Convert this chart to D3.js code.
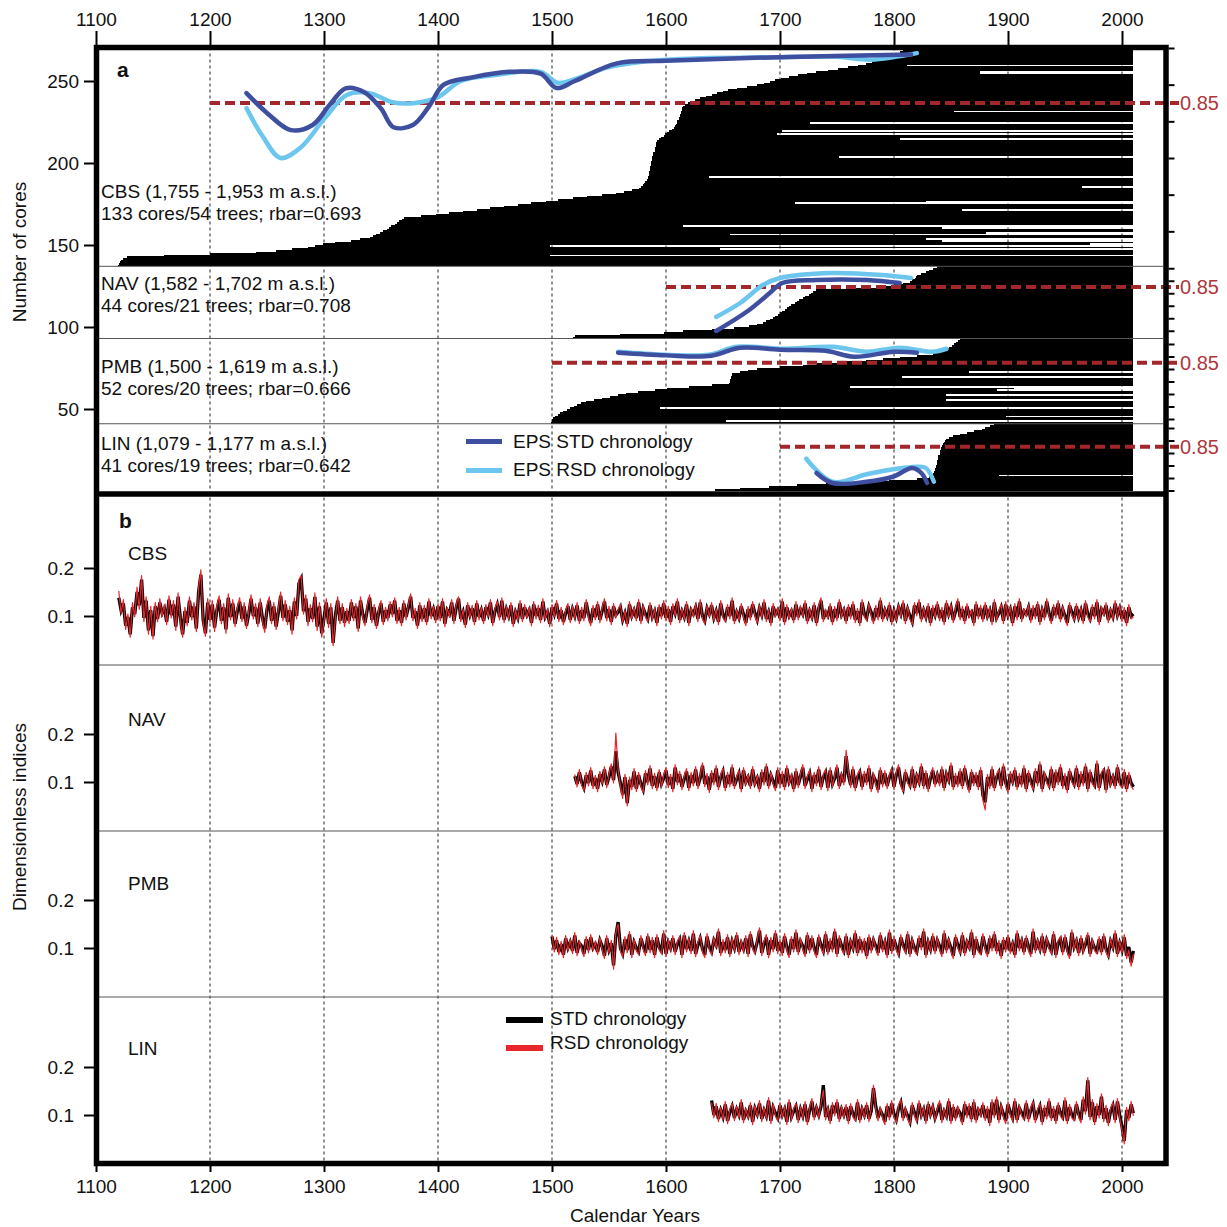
<!DOCTYPE html>
<html><head><meta charset="utf-8">
<script src="https://cdn.jsdelivr.net/npm/d3@7/dist/d3.min.js"></script>
<style>
body{margin:0;background:#fff}
svg{display:block}
text{font-family:"Liberation Sans",Arial,Helvetica,sans-serif;fill:#111}
</style></head>
<body><svg id="chart" width="1227" height="1227"></svg>
<script>
// ---------------- DATA ----------------
const yearTicks = [1100,1200,1300,1400,1500,1600,1700,1800,1900,2000];
const gridYears = [1200,1300,1400,1500,1600,1700,1800,1900,2000];
const coreTicks = [50,100,150,200,250];
const indexTicks = [0.1,0.2];
const epsTicks = [0.4,0.5,0.6,0.7,0.8,0.9,1.0];
const epsThreshold = 0.85;
const lastYear = 2010;

const sites = ["CBS","NAV","PMB","LIN"];
const siteLine1 = ["CBS (1,755 - 1,953 m a.s.l.)","NAV (1,582 - 1,702 m a.s.l.)","PMB (1,500 - 1,619 m a.s.l.)","LIN (1,079 - 1,177 m a.s.l.)"];
const siteLine2 = ["133 cores/54 trees; rbar=0.693","44 cores/21 trees; rbar=0.708","52 cores/20 trees; rbar=0.666","41 cores/19 trees; rbar=0.642"];
const epsLineStart = [1200,1600,1500,1700];

// core start years (sorted, bottom to top within each site)
const linStart = [1643,1665,1690,1715,1740,1770,1796,1820,1831,1833,1834,1835,1836,1836,1837,
 1837,1838,1838,1838,1839,1839,1839,1840,1840,1840,1841,1841,1842,1843,1844,1845,1846,1848,
 1852,1858,1864,1870,1877,1880,1884,1888];
const pmbStart = [1499,1500,1500,1501,1503,1505,1507,1510,1513,1516,1519,1522,1525,
 1530,1537,1544,1551,1558,1565,1575,1590,1601,1620,1640,1655,1656,1656,1657,1657,1658,1658,
 1665,1672,1680,1700,1720,1732,1755,1775,1790,1805,1820,1834,1838,1842,1845,1848,1851,1853,1854,1856,1858];
const navStart = [1518,1520,1560,1598,1615,1640,1660,1673,1680,1685,1688,1691,1694,1696,1698,1700,
 1702,1704,1706,1708,1710,1713,1715,1717,1720,1722,1725,1727,1729,1732,1760,1790,1800,1808,1814,
 1816,1818,1819,1820,1824,1828,1831,1834,1838];
const cbsStart = [1119,1120,1121,1122,1124,1127,1160,1200,1240,1258,1272,1286,1292,1299,1310,1324,1332,1340,
 1343,1346,1349,1352,1355,1357,1359,1362,1364,1366,1368,1370,
 1385,1398,1410,1422,1434,1446,1458,1470,1482,1495,1505,1518,1531,1544,1556,1563,1570,1576,
 1578,1580,1581,1582,1583,
 1584,1584,1585,1585,1585,1586,1586,1586,1587,1587,1587,1588,1588,1588,1589,1589,1589,1590,1590,1590,1591,1591,1591,1592,
 1594,1596,1598,1599,1601,1603,1605,1607,1608,1609,
 1610,1610,1611,1611,1612,1612,1613,1613,1614,1614,1615,1617,1619,1622,
 1625,1630,1635,1640,1645,1650,1654,1662,1671,1680,1686,1691,1696,1701,1708,1716,1724,1732,
 1742,1751,1760,1768,1775,1781,1786,1790,1794,1798,1801,1805,1808,1811];

// cores (global row index) that end before the last year: [row, endYear]
const shortCores = [[259,1811],[254,1875],[255,1875],[231,1853],[224,1726],[219,1702],[217,1697],[214,1805],
 [203,1752],[191,1638],[175,1713],[176,1828],[171,1860],[161,1615],[160,1842],[156,1656],[157,1881],
 [153,1828],[152,1842],[149,1498],[147,1647],[143,1498],[185,1965],[150,1972],
 [72,1866],[69,1807],[63,1761],[62,1905],[61,1890],[58,1846],[55,1846],[50,1595],[45,1898],[42,1653],[9,1892]];

// EPS curves [year, EPS]
const cbsEpsStd = [[1232,0.877],[1250,0.823],[1271,0.776],[1290,0.79],[1305,0.845],[1319,0.89],[1335,0.88],[1350,0.835],[1361,0.784],[1378,0.79],[1392,0.84],[1405,0.9],[1430,0.92],[1463,0.935],[1490,0.93],[1504,0.891],[1520,0.91],[1557,0.958],[1600,0.965],[1700,0.975],[1815,0.982]];
const cbsEpsRsd = [[1232,0.836],[1246,0.76],[1262,0.70],[1280,0.73],[1300,0.806],[1320,0.872],[1340,0.877],[1360,0.852],[1380,0.85],[1400,0.866],[1420,0.91],[1450,0.926],[1490,0.935],[1505,0.905],[1520,0.915],[1550,0.948],[1600,0.968],[1700,0.975],[1750,0.976],[1780,0.968],[1820,0.986]];
const navEpsStd = [[1644,0.498],[1673,0.666],[1691,0.802],[1702,0.882],[1732,0.906],[1776,0.906],[1805,0.882]];
const navEpsRsd = [[1644,0.61],[1665,0.722],[1685,0.866],[1700,0.922],[1745,0.962],[1790,0.946],[1815,0.922]];
const pmbEpsStd = [[1558,0.93],[1600,0.909],[1640,0.906],[1665,0.97],[1700,0.954],[1740,0.946],[1765,0.898],[1800,0.938],[1820,0.93]];
const pmbEpsRsd = [[1558,0.938],[1600,0.914],[1638,0.914],[1662,0.978],[1703,0.962],[1746,0.978],[1776,0.938],[1805,0.97],[1834,0.938],[1846,0.962]];
const linEpsStd = [[1732,0.64],[1746,0.56],[1776,0.57],[1799,0.61],[1816,0.68],[1824,0.64],[1829,0.56]];
const linEpsRsd = [[1723,0.754],[1746,0.57],[1776,0.63],[1799,0.67],[1820,0.69],[1828,0.68],[1835,0.57]];

// chronologies, every second year, values x1000
const cbsFirstYear = 1120, navFirstYear = 1520, pmbFirstYear = 1500, linFirstYear = 1640;
const cbsStd = [138,112,126,80,98,62,118,104,150,122,176,96,132,70,112,58,120,94,128,106,
116,88,134,102,124,78,140,96,62,110,86,132,98,120,74,150,186,92,64,128,
92,124,76,112,134,90,118,72,138,98,126,84,110,130,94,120,80,104,136,100,
118,84,128,96,74,114,132,90,120,78,108,142,96,124,88,112,70,130,100,168,
178,110,136,88,116,94,140,78,120,64,96,128,84,118,44,102,132,90,118,86,
110,90,128,96,120,74,132,104,86,114,138,92,118,80,108,126,88,112,96,124,
104,132,90,112,86,126,98,118,140,96,110,80,122,94,116,88,130,100,114,92,
120,96,130,84,112,104,128,90,118,136,94,108,82,122,102,116,88,126,98,112,
90,118,104,128,86,110,124,98,132,92,114,100,122,84,108,96,126,94,118,102,
112,86,124,100,116,92,130,98,108,84,118,104,126,94,112,88,106,120,92,114,
100,122,90,112,96,128,104,86,116,98,124,92,110,130,96,114,88,120,102,108,
118,92,106,84,124,100,112,96,128,90,116,104,94,122,98,110,86,118,100,126,
96,114,88,120,106,130,92,110,98,124,86,112,104,118,94,128,100,90,116,104,
122,96,110,88,126,102,94,118,100,132,90,108,96,120,104,86,114,98,124,106,
92,116,102,128,94,108,86,120,104,112,96,130,88,118,100,110,92,124,98,114,
104,126,90,110,98,122,86,116,132,94,108,100,120,88,114,96,128,102,112,90,
118,100,124,92,110,86,128,104,96,120,108,90,116,98,132,94,112,100,122,88,
110,96,118,104,126,90,114,100,88,122,106,128,94,112,98,120,86,116,102,124,
96,112,88,126,104,118,92,110,130,98,114,90,120,102,108,86,124,100,116,94,
122,100,112,88,128,96,106,118,90,124,102,114,86,120,98,130,94,110,104,118,
92,116,100,124,88,112,98,130,106,90,118,102,126,94,114,100,86,122,108,96,
120,98,112,90,126,104,94,118,100,128,88,114,106,122,92,110,98,126,102,116,
94,112,86,118,100,104];
const cbsRsd = [152,106,134,72,104,56,128,98,160,114,184,88,140,62,120,52,128,88,136,98,
124,82,142,96,132,70,148,90,56,118,80,140,92,128,68,158,196,86,58,136,
86,132,68,120,142,84,126,64,146,92,134,78,118,138,88,128,74,110,144,94,
126,78,136,90,66,122,140,84,128,72,116,150,90,132,82,120,62,138,94,176,
184,104,144,80,124,88,148,70,128,56,90,136,76,126,38,96,140,84,126,78,
116,84,134,90,126,68,140,98,80,122,144,86,124,74,114,132,82,118,90,130,
98,138,84,118,80,132,92,124,146,90,116,74,128,88,122,82,136,94,120,86,
126,90,136,78,118,98,134,84,124,140,88,114,76,128,96,122,82,132,92,118,
84,124,98,134,80,116,130,92,138,86,120,94,128,78,114,90,132,88,124,96,
118,80,130,94,122,86,136,92,114,78,124,98,132,88,118,82,112,126,86,120,
94,128,84,118,90,134,98,80,122,92,130,86,116,136,90,120,82,126,96,114,
124,86,112,78,130,94,118,90,134,84,122,98,88,128,92,116,80,124,94,132,
90,120,82,126,100,136,86,116,92,130,80,118,98,124,88,134,94,84,122,98,
128,90,116,82,132,96,88,124,94,138,84,114,90,126,98,80,120,92,130,100,
86,122,96,134,88,114,80,126,98,118,90,136,82,124,94,116,86,130,92,120,
98,132,84,116,92,128,80,122,138,88,114,94,126,82,120,90,134,96,118,84,
124,94,130,86,116,80,134,98,90,126,102,84,122,92,138,88,118,94,128,82,
116,90,124,98,132,84,120,94,82,128,100,134,88,118,92,126,80,122,96,130,
90,118,82,132,98,124,86,116,136,92,120,84,126,96,114,80,130,94,122,88,
128,94,118,82,134,90,112,124,84,130,96,120,80,126,92,136,88,116,98,124,
86,122,94,130,82,118,92,136,100,84,124,96,132,88,120,94,80,128,102,90,
126,92,118,84,132,98,88,124,94,134,82,120,100,128,86,116,92,132,96,122,
88,118,80,124,94,98];
const navStd = [112,96,120,100,88,114,98,124,92,108,86,116,102,126,94,110,132,104,164,120,
98,74,110,56,104,90,122,86,114,96,84,118,100,128,92,112,88,120,96,108,
124,94,110,86,130,100,116,90,106,122,88,114,98,126,92,108,134,96,112,84,
118,100,128,90,110,122,88,114,96,130,92,106,118,86,124,100,110,92,126,98,
108,86,120,100,132,92,114,102,88,124,96,116,90,128,100,110,86,122,94,112,
130,92,106,118,86,114,98,126,90,110,120,88,124,96,108,130,92,112,100,154,
114,94,126,88,110,120,90,116,100,128,86,112,102,84,124,96,118,92,110,122,
90,114,130,98,86,120,104,94,126,88,112,100,132,92,118,86,108,124,96,114,
98,126,88,116,104,134,90,112,96,122,92,128,102,84,120,98,114,90,124,72,
58,110,92,126,88,110,120,92,132,98,84,116,102,124,90,112,96,128,86,118,
102,90,122,98,136,86,114,104,94,126,88,120,100,130,92,112,84,122,106,96,
128,90,116,98,132,86,120,102,94,138,88,114,122,84,126,98,110,92,130,100,
94,120,86,114,98,90];
const navRsd = [116,90,126,94,82,120,92,130,86,114,80,122,96,132,88,116,138,98,202,126,
92,66,116,50,110,84,128,80,120,90,78,124,94,134,86,118,82,126,90,114,
130,88,116,80,136,94,122,84,112,128,82,120,92,132,86,114,140,90,118,78,
124,94,134,84,116,128,82,120,90,136,86,112,124,80,130,94,116,86,132,92,
114,80,126,94,138,86,120,96,82,130,90,122,84,134,94,116,80,128,88,118,
136,86,112,124,80,120,92,132,84,116,126,82,130,90,114,136,86,118,94,166,
120,88,132,82,116,126,84,122,94,134,80,118,96,78,130,90,124,86,116,128,
84,120,136,92,80,126,98,88,132,82,118,94,138,86,124,80,114,130,90,120,
92,132,82,122,98,140,84,118,90,128,86,134,96,78,126,92,120,84,130,62,
42,116,86,132,82,116,126,86,138,92,78,122,96,130,84,118,90,134,80,124,
96,84,128,92,142,80,120,98,88,132,82,126,94,136,86,118,78,128,100,90,
134,84,122,92,138,80,126,96,88,144,82,120,128,78,132,92,116,86,136,94,
88,126,80,120,92,84];
const pmbStd = [124,98,116,92,108,86,120,100,112,94,126,90,110,104,88,118,96,122,100,108,
92,116,104,84,120,96,110,64,126,154,100,88,118,96,128,86,112,100,92,120,
104,90,124,96,116,86,122,102,94,130,88,112,100,120,92,108,118,86,126,98,
114,94,130,88,106,120,98,86,124,102,92,116,106,134,90,112,96,122,88,114,
100,126,92,110,98,120,88,128,104,94,112,136,90,108,122,86,116,98,130,94,
112,90,124,102,86,118,98,132,92,114,104,88,126,96,120,100,86,122,106,94,
128,92,114,98,134,88,120,104,94,124,86,112,100,130,90,118,96,114,84,122,
96,116,104,90,126,98,112,86,132,94,118,102,90,122,106,96,128,88,114,100,
92,120,102,134,86,112,98,124,94,116,104,88,130,96,114,100,84,122,106,94,
126,90,112,102,132,86,118,98,92,124,104,88,120,100,128,94,110,84,116,98,
122,94,108,86,130,100,114,92,120,102,88,134,96,112,98,124,90,116,104,94,
128,86,110,118,92,122,98,84,132,102,114,90,120,96,108,126,88,112,100,94,
118,92,124,98,86,114,102,130,88,110,96,122,84,102,70,94];
const pmbRsd = [128,92,122,86,114,80,126,94,118,88,132,84,116,98,82,124,90,128,94,114,
86,122,98,78,126,90,116,56,132,150,94,82,124,90,134,80,118,94,86,126,
98,84,130,90,122,80,128,96,88,136,82,118,94,126,86,114,124,80,132,92,
120,88,136,82,112,126,92,80,130,96,86,122,100,140,84,118,90,128,82,120,
94,132,86,116,92,126,82,134,98,88,118,142,84,114,128,80,122,92,136,88,
118,84,130,96,80,124,92,138,86,120,98,82,132,90,126,94,80,128,100,88,
134,86,120,92,140,82,126,98,88,130,80,118,94,136,84,124,90,120,78,128,
90,122,98,84,132,92,118,80,138,88,124,96,84,128,100,90,134,82,120,94,
86,126,96,140,80,118,92,130,88,122,98,82,136,90,120,94,78,128,100,88,
132,84,118,96,138,80,124,92,86,130,98,82,126,94,134,88,116,78,122,92,
128,88,114,80,136,94,120,86,126,96,82,140,90,118,92,130,84,122,98,88,
134,80,116,124,86,128,92,78,138,96,120,84,126,90,114,132,82,118,94,88,
124,86,130,92,80,120,96,136,82,116,90,128,78,96,62,88];
const linStd = [130,100,118,92,110,96,122,88,106,118,94,112,100,126,90,108,98,120,86,114,
102,124,92,110,98,130,88,116,104,94,120,100,112,86,126,96,108,118,90,112,
98,122,86,110,128,96,114,100,118,162,96,110,88,120,104,126,92,112,100,116,
88,118,102,94,126,90,112,100,120,92,108,156,118,94,110,100,86,118,96,124,
102,90,114,126,94,110,98,86,120,104,92,124,100,112,88,122,102,116,94,108,
124,90,108,98,128,88,116,94,112,104,86,122,100,118,92,126,90,110,102,120,
94,112,84,126,100,132,90,116,102,88,122,106,94,128,90,114,104,96,124,92,
110,122,90,106,118,86,114,98,128,94,112,88,120,104,96,130,88,116,100,94,
122,102,90,132,108,172,96,126,86,118,100,138,92,114,84,108,120,90,128,100,
76,46,110,94,122,104];
const linRsd = [126,94,124,86,116,90,128,82,112,124,88,118,94,132,84,114,92,126,80,120,
96,130,86,116,92,136,82,122,98,88,126,94,118,80,132,90,114,124,84,118,
92,128,80,116,134,90,120,94,124,152,90,116,82,126,98,132,86,118,94,122,
82,124,96,88,132,84,118,94,126,86,114,162,112,88,116,94,80,124,90,130,
96,84,120,132,88,116,92,80,126,98,86,130,94,118,82,128,96,122,88,114,
130,84,114,92,134,82,122,88,118,98,80,128,94,124,86,132,84,116,96,126,
88,118,78,132,94,138,84,122,96,82,128,100,88,134,84,120,98,90,130,86,
116,128,84,112,124,80,120,92,134,88,118,82,126,98,90,136,82,122,94,88,
128,96,84,138,102,178,90,132,80,124,94,144,86,120,78,114,126,84,134,94,
70,40,116,88,128,98];

// ---------------- DRAWING ----------------
const svg = d3.select("#chart");
const FONT = 19;
const L = 96.5, R = 1166, T = 47.5, B = 1163.5, MID = 494;

const x = d3.scaleLinear().domain([1100,2000]).range([96,1122]);
const yCore = d3.scaleLinear().domain([0,250]).range([491,81]);

// EPS scales for each site (panel a, right axis)
const epsRanges = [[268,48],[343.25,268.25],[419,344],[503,428]];
const epsScales = epsRanges.map(r => d3.scaleLinear().domain([0.4,1.0]).range(r));

// panel b index scales
const bBase = [664,830,996,1163];
const idxScales = bBase.map(b => d3.scaleLinear().domain([0,0.1]).range([b,b-48]));

// grid lines
svg.append("g").selectAll("line").data(gridYears).join("line")
  .attr("x1",d=>x(d)).attr("x2",d=>x(d)).attr("y1",T).attr("y2",B)
  .attr("stroke","#222").attr("stroke-width",1).attr("stroke-dasharray","3,3");

// cores
const groups = [linStart, pmbStart, navStart, cbsStart];
const cores = [];
let row = 0;
groups.forEach((g,gi)=>g.forEach(s=>{cores.push({row:row, start:s, end:lastYear}); row++;}));
shortCores.forEach(([r,e])=>{ if(cores[r]) cores[r].end = e; });
const groupBounds = [0, linStart.length, linStart.length+pmbStart.length, linStart.length+pmbStart.length+navStart.length, cores.length];

svg.append("g").attr("shape-rendering","crispEdges").selectAll("rect").data(cores).join("rect")
  .attr("x",d=>x(d.start)).attr("width",d=>Math.max(0,x(d.end)-x(d.start)))
  .attr("y",d=>yCore(d.row+1)).attr("height",d=>yCore(d.row)-yCore(d.row+1))
  .attr("fill","#000");

// separators panel a
svg.append("g").selectAll("line").data(groupBounds.slice(1,4)).join("line")
  .attr("x1",L).attr("x2",R-3).attr("y1",d=>yCore(d)).attr("y2",d=>yCore(d))
  .attr("stroke","#555").attr("stroke-width",1);
// separators panel b
svg.append("g").selectAll("line").data(bBase.slice(0,3)).join("line")
  .attr("x1",L).attr("x2",R-3).attr("y1",d=>d+1).attr("y2",d=>d+1)
  .attr("stroke","#555").attr("stroke-width",1);

// chronologies
const chronData = [
  [cbsFirstYear,cbsStd,cbsRsd],[navFirstYear,navStd,navRsd],[pmbFirstYear,pmbStd,pmbRsd],[linFirstYear,linStd,linRsd]];
chronData.forEach(([fy,std,rsd],i)=>{
  const ys = idxScales[i];
  const ln = d3.line().x((d,k)=>x(fy+2*k)).y(d=>ys(d/1000));
  svg.append("path").attr("d",ln(std)).attr("fill","none").attr("stroke","#000").attr("stroke-width",3.3).attr("stroke-linejoin","miter");
  svg.append("path").attr("d",ln(rsd)).attr("fill","none").attr("stroke","#e8262b").attr("stroke-width",1.2).attr("stroke-linejoin","round");
});

// EPS threshold dashed lines
epsLineStart.forEach((ys,i)=>{
  const yy = epsScales[i](epsThreshold);
  svg.append("line").attr("x1",x(ys)).attr("x2",1179).attr("y1",yy).attr("y2",yy)
    .attr("stroke","#a3262a").attr("stroke-width",4).attr("stroke-dasharray","10,5");
});

// EPS curves
const epsData = [[cbsEpsStd,cbsEpsRsd],[navEpsStd,navEpsRsd],[pmbEpsStd,pmbEpsRsd],[linEpsStd,linEpsRsd]];
epsData.forEach(([s,r],i)=>{
  const sc = epsScales[i];
  const ln = d3.line().curve(d3.curveCatmullRom.alpha(0.5)).x(d=>x(d[0])).y(d=>sc(d[1]));
  svg.append("path").attr("d",ln(r)).attr("fill","none").attr("stroke","#6cc6ee").attr("stroke-width",4.5).attr("stroke-linecap","round");
  svg.append("path").attr("d",ln(s)).attr("fill","none").attr("stroke","#3f4fa0").attr("stroke-width",4.5).attr("stroke-linecap","round");
});

// frame
svg.append("rect").attr("x",L).attr("y",T).attr("width",R-L).attr("height",B-T)
  .attr("fill","none").attr("stroke","#000").attr("stroke-width",5.5);
svg.append("line").attr("x1",L).attr("x2",R).attr("y1",MID).attr("y2",MID).attr("stroke","#000").attr("stroke-width",5.5);

// axes
function styleAxis(g){
  g.select(".domain").remove();
  g.selectAll(".tick line").attr("stroke","#000").attr("stroke-width",2);
  g.selectAll(".tick text").attr("font-size",FONT).attr("fill","#222").attr("font-family",'"Liberation Sans",Arial,sans-serif');
}
svg.append("g").attr("transform",`translate(0,${T-2.5})`)
  .call(d3.axisTop(x).tickValues(yearTicks).tickFormat(d3.format("d")).tickSize(14).tickPadding(5)).call(styleAxis);
svg.append("g").attr("transform",`translate(0,${B+2.5})`)
  .call(d3.axisBottom(x).tickValues(yearTicks).tickFormat(d3.format("d")).tickSize(6).tickPadding(8)).call(styleAxis);
svg.append("g").attr("transform",`translate(${L-2.5},0)`)
  .call(d3.axisLeft(yCore).tickValues(coreTicks).tickSize(10).tickPadding(5)).call(styleAxis);
idxScales.forEach(sc=>{
  svg.append("g").attr("transform",`translate(${L-2.5},0)`)
    .call(d3.axisLeft(sc).tickValues(indexTicks).tickSize(10).tickPadding(10).tickFormat(d3.format(".1f"))).call(styleAxis);
});
// right EPS ticks
const panelTop = [yCore(groupBounds[4]) - 3, yCore(groupBounds[3]), yCore(groupBounds[2]), yCore(groupBounds[1])];
const panelBot = [yCore(groupBounds[3]), yCore(groupBounds[2]), yCore(groupBounds[1]), yCore(0)+2];
epsScales.forEach((sc,i)=>{
  const tv = epsTicks.filter(t=>sc(t) >= panelTop[i]-1 && sc(t) <= panelBot[i]+1);
  svg.append("g").attr("transform",`translate(${R+2.5},0)`)
    .call(d3.axisRight(sc).tickValues(tv).tickSize(6).tickFormat("")).call(styleAxis);
  svg.append("text").attr("x",1180).attr("y",sc(epsThreshold)+7).attr("font-size",FONT+1)
    .style("fill","#b0363b").text("0.85");
});

// axis titles
svg.append("text").attr("transform","translate(26,252) rotate(-90)").attr("text-anchor","middle").attr("font-size",FONT).text("Number of cores");
svg.append("text").attr("transform","translate(26,817) rotate(-90)").attr("text-anchor","middle").attr("font-size",FONT).text("Dimensionless indices");
svg.append("text").attr("x",635).attr("y",1222).attr("text-anchor","middle").attr("font-size",FONT).text("Calendar Years");

// panel letters
svg.append("text").attr("x",117).attr("y",77).attr("font-size",FONT+2).attr("font-weight","bold").text("a");
svg.append("text").attr("x",119).attr("y",528).attr("font-size",FONT+2).attr("font-weight","bold").text("b");

// site texts panel a
const aText1Y = [198,290,373,450];
sites.forEach((s,i)=>{
  svg.append("text").attr("x",101).attr("y",aText1Y[i]).attr("font-size",FONT).text(siteLine1[i]);
  svg.append("text").attr("x",101).attr("y",aText1Y[i]+22).attr("font-size",FONT).text(siteLine2[i]);
});
// site labels panel b
const bLabelY = [560,726,890,1055];
sites.forEach((s,i)=>{
  svg.append("text").attr("x",128).attr("y",bLabelY[i]).attr("font-size",FONT).text(s);
});

// legend panel a
svg.append("rect").attr("x",466).attr("y",439).attr("width",36).attr("height",5).attr("fill","#3f4fa0");
svg.append("rect").attr("x",466).attr("y",468).attr("width",36).attr("height",5).attr("fill","#6cc6ee");
svg.append("text").attr("x",513).attr("y",448).attr("font-size",FONT).text("EPS STD chronology");
svg.append("text").attr("x",513).attr("y",476).attr("font-size",FONT).text("EPS RSD chronology");

// legend panel b
svg.append("rect").attr("x",506).attr("y",1017).attr("width",37).attr("height",6).attr("fill","#000");
svg.append("rect").attr("x",506).attr("y",1045).attr("width",37).attr("height",6).attr("fill","#e8262b");
svg.append("text").attr("x",550).attr("y",1025).attr("font-size",FONT).text("STD chronology");
svg.append("text").attr("x",550).attr("y",1049).attr("font-size",FONT).text("RSD chronology");
</script>
</body></html>
